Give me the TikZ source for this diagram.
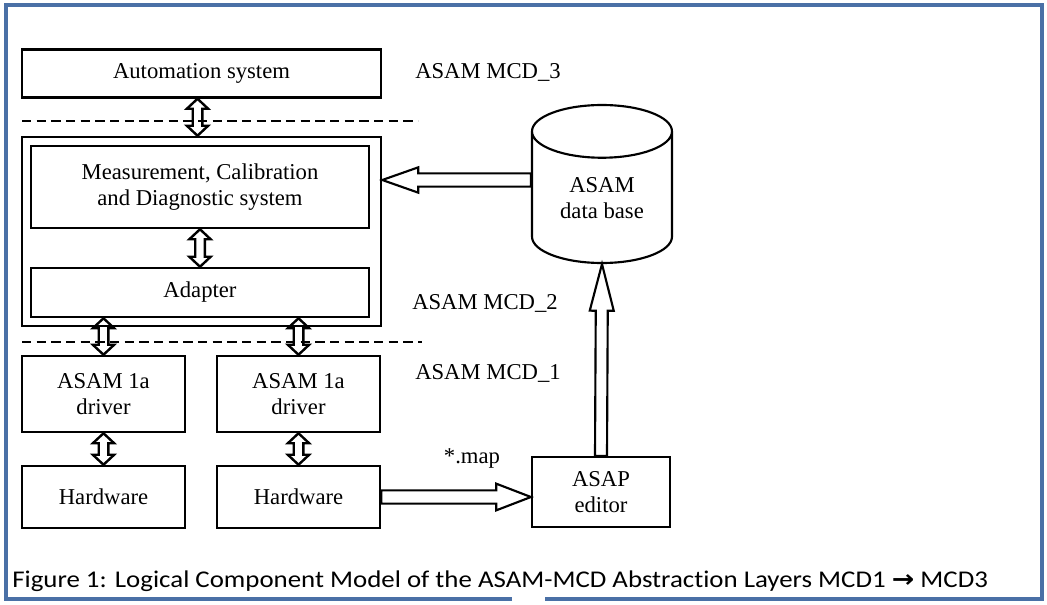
\documentclass[tikz,border=0pt]{standalone}
\usepackage{fontspec}
\setmainfont{Liberation Serif}
\newfontfamily\capfont[Ligatures={NoCommon,NoDiscretionary}]{Carlito}
\newfontfamily\arrowfont{DejaVu Sans}
\usepackage{tikz}
\usetikzlibrary{calc,shapes.geometric}
\definecolor{framecol}{RGB}{74,112,166}

\tikzset{
	boxfont/.style={font=\fontsize{17}{19.5}\selectfont},
	boxsize/.style 2 args={minimum width=#1*0.75pt, minimum height=#2*0.75pt},
	box/.style={draw, line width=1.9pt, inner sep=0pt, align=center, boxfont},
	layertext/.style={anchor=west, inner sep=0pt, boxfont},
	layerline/.style={line width=1.6pt, dash pattern=on 7pt off 4pt},
	frame/.style={line width=3pt, color=framecol},
	% hollow arrow: shaft half width, head half width, head length
	fatarrow/.style n args={3}{line width=1.6pt, to path={
		($(\tikztotarget)!#3!(\tikztostart)$) coordinate (hb)
		($(\tikztostart)!#1!90:(\tikztotarget)$) -- ($(hb)!#1!-90:(\tikztostart)$)
		-- ($(hb)!#2!-90:(\tikztostart)$) -- (\tikztotarget)
		-- ($(hb)!#2!90:(\tikztostart)$) -- ($(hb)!#1!90:(\tikztostart)$)
		-- ($(\tikztostart)!#1!-90:(\tikztotarget)$) -- cycle
	}},
	dblarrow/.style={line width=1.8pt, to path={
		($(\tikztotarget)!7.5pt!(\tikztostart)$) coordinate (hb)
		($(\tikztostart)!7.5pt!(\tikztotarget)$) coordinate (ha)
		(\tikztostart) -- ($(ha)!8pt!-90:(\tikztotarget)$) -- ($(ha)!3.6pt!-90:(\tikztotarget)$)
		-- ($(hb)!3.6pt!90:(\tikztostart)$) -- ($(hb)!8pt!90:(\tikztostart)$) -- (\tikztotarget)
		-- ($(hb)!8pt!-90:(\tikztostart)$) -- ($(hb)!3.6pt!-90:(\tikztostart)$)
		-- ($(ha)!3.6pt!90:(\tikztotarget)$) -- ($(ha)!8pt!90:(\tikztotarget)$) -- cycle
	}},
}

\begin{document}
\begin{tikzpicture}[x=0.75pt, y=-0.75pt]
			%%%%% START %%%%%
			\useasboundingbox (0,0) rectangle (1047,604);
			
			\draw[frame] (512,599) -- (6,599) -- (6,5) -- (1042,5) -- (1042,599) -- (545,599);
			
			\node[box, boxsize={359}{48}] (auto) at (201.5,73.5) {Automation system};
			\node[box, boxsize={359}{189}] (mcd) at (201.5,231.5) {};
			\node[box, boxsize={338}{82}] (meas) at (200,187) {Measurement, Calibration\\and Diagnostic system};
			\node[box, boxsize={338}{49}] (adapter) at (200,292.5) {Adapter};
			
			\node[box, boxsize={163}{76}] (drv1) at (103.5,394) {ASAM 1a\\driver};
			\node[box, boxsize={163}{76}] (drv2) at (298.5,394) {ASAM 1a\\driver};
			\node[box, boxsize={163}{62}] (hw1) at (103.5,497) {Hardware};
			\node[box, boxsize={163}{62}] (hw2) at (298.5,497) {Hardware};
			
			\node[cylinder, shape border rotate=90, aspect=0.63, draw, line width=1.6pt, inner sep=0pt,
				boxsize={140}{158}, align=center, boxfont, anchor=shape center] (db) at (602,184) {ASAM\\data base};
			\node[box, line width=1.6pt, boxsize={138}{70}] (editor) at (601,492) {ASAP\\editor};
			
			\draw[layerline] (22,121) -- (418,121);
			\draw[layerline] (22,342) -- (422,342);
			
			\node[layertext] (mcd3) at (415,72) {ASAM MCD\_3};
			\node[layertext] (mcd2) at (412,303) {ASAM MCD\_2};
			\node[layertext] (mcd1) at (415,373) {ASAM MCD\_1};
			\node[boxfont, inner sep=0pt] (map) at (472,458) {*.map};
			
			\draw[dblarrow] ($(auto.south)+(-4,0)$) to ($(mcd.north)+(-4,0)$);
			\draw[dblarrow] (meas.south) to (adapter.north);
			\draw[dblarrow] (adapter.south -| drv1.north) to (drv1.north);
			\draw[dblarrow] (adapter.south -| drv2.north) to (drv2.north);
			\draw[dblarrow] (drv1.south) to (hw1.north);
			\draw[dblarrow] (drv2.south) to (hw2.north);
			
			\draw[fatarrow={5pt}{9.5pt}{27pt}] ($(db.west |- db.shape center)+(0,-4)$) to ($(db.shape center -| mcd.east)+(0,-4)$);
			\draw[fatarrow={4.5pt}{9pt}{35pt}] (editor.north) to (db.south);
			\draw[fatarrow={5pt}{10pt}{26pt}] (hw2.east) to (hw2.east -| editor.west);
			
			\node[anchor=base west, inner sep=0pt, font=\capfont\fontsize{18}{20}\selectfont] (caption) at (12,587)
				{\scalebox{1.12}[1]{Figure 1: Logical Component Model of the ASAM-MCD Abstraction Layers MCD1 {\arrowfont\bfseries →} MCD3}};
			
			%%%%% END %%%%%
\end{tikzpicture}
\end{document}
